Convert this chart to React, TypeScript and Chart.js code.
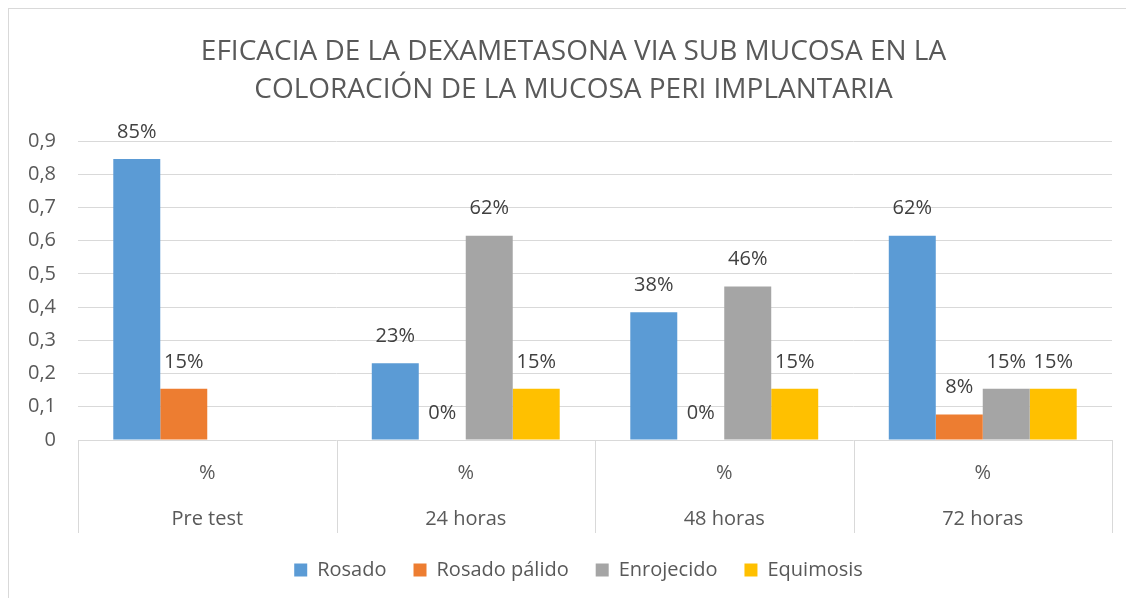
import React, { useEffect, useRef } from "react";
import { Chart, registerables } from "chart.js";

Chart.register(...registerables);

const categories: string[][] = [["%", "Pre test"], ["%", "24 horas"], ["%", "48 horas"], ["%", "72 horas"]];
const seriesNames = ["Rosado", "Rosado pálido", "Enrojecido", "Equimosis"];
const rosado = [0.846, 0.231, 0.3846, 0.615];
const rosadoPalido = [0.154, 0, 0, 0.077];
const enrojecido = [null, 0.615, 0.462, 0.154];
const equimosis = [null, 0.154, 0.154, 0.154];
const colors = ["#5B9BD5", "#ED7D31", "#A5A5A5", "#FFC000"];
const yTicks = [0, 0.1, 0.2, 0.3, 0.4, 0.5, 0.6, 0.7, 0.8, 0.9];
const titleLines = [
  "EFICACIA DE LA DEXAMETASONA VIA SUB MUCOSA EN LA",
  "COLORACIÓN DE LA MUCOSA PERI IMPLANTARIA",
];

const FONT = "'Open Sans', 'Noto Sans', sans-serif";
const TEXT = "#595959";

const labelPlugin = {
  id: "barLabels",
  afterDatasetsDraw(chart: any) {
    const ctx = chart.ctx;
    ctx.save();
    ctx.font = `20px ${FONT}`;
    ctx.fillStyle = "#404040";
    ctx.textAlign = "center";
    ctx.textBaseline = "middle";
    chart.data.datasets.forEach((ds: any, di: number) => {
      const meta = chart.getDatasetMeta(di);
      meta.data.forEach((bar: any, i: number) => {
        const v = ds.data[i];
        if (v === null || v === undefined) return;
        ctx.fillText(Math.round(v * 100) + "%", bar.x, bar.y - 27);
      });
    });
    ctx.restore();
  },
};

const separatorPlugin = {
  id: "separators",
  afterDraw(chart: any) {
    const xs = chart.scales.x;
    const ctx = chart.ctx;
    const n = xs.ticks.length;
    const w = (xs.right - xs.left) / n;
    ctx.save();
    ctx.strokeStyle = "#d9d9d9";
    ctx.lineWidth = 1;
    for (let i = 0; i <= n; i++) {
      const x = Math.round(xs.left + i * w) + 0.5;
      ctx.beginPath();
      ctx.moveTo(x, xs.top);
      ctx.lineTo(x, xs.top + 93);
      ctx.stroke();
    }
    ctx.restore();
  },
};

const shiftPlugin = {
  id: "shiftBoxes",
  afterLayout(chart: any) {
    if (chart.titleBlock) {
      chart.titleBlock.left += 13;
      chart.titleBlock.right += 13;
    }
    if (chart.legend) {
      chart.legend.left += 18;
      chart.legend.right += 18;
    }
  },
};

export default function App() {
  const ref = useRef<HTMLCanvasElement>(null);
  useEffect(() => {
    const datasets = [rosado, rosadoPalido, enrojecido, equimosis].map((d, i) => ({
      label: seriesNames[i],
      data: d,
      backgroundColor: colors[i],
      borderWidth: 0,
      categoryPercentage: 0.727,
      barPercentage: 1,
    }));
    const chart = new Chart(ref.current!, {
      type: "bar",
      data: { labels: categories, datasets },
      plugins: [labelPlugin, separatorPlugin, shiftPlugin],
      options: {
        animation: false,
        responsive: true,
        maintainAspectRatio: false,
        layout: { padding: { top: 24, left: 0, right: 15, bottom: 7 } },
        plugins: {
          title: {
            display: true,
            text: titleLines,
            color: TEXT,
            font: { family: FONT, size: 28, weight: "normal", lineHeight: 1.36 },
            padding: { top: 0, bottom: 32 },
          },
          legend: {
            position: "bottom",
            labels: {
              color: TEXT,
              font: { family: FONT, size: 20 },
              boxWidth: 13,
              boxHeight: 13,
              padding: 27,
            },
          },
          tooltip: { enabled: false },
        },
        scales: {
          x: {
            grid: { display: false, drawTicks: false },
            border: { display: false },
            afterFit: (s: any) => {
              s.height = 93;
            },
            ticks: {
              color: TEXT,
              font: { family: FONT, size: 20, lineHeight: 2.3 },
              padding: 10,
              maxRotation: 0,
            },
          },
          y: {
            min: 0,
            max: 0.9,
            afterBuildTicks: (s: any) => {
              s.ticks = yTicks.map((v) => ({ value: v }));
            },
            afterFit: (s: any) => {
              s.width = 69;
            },
            grid: { color: "#d9d9d9", drawTicks: false },
            border: { display: false },
            ticks: {
              color: TEXT,
              font: { family: FONT, size: 20 },
              padding: 22,
              callback: (v: any) => String(Math.round(Number(v) * 10) / 10).replace(".", ","),
            },
          },
        },
      },
    });
    return () => chart.destroy();
  }, []);
  return (
    <div
      style={{
        width: 1125,
        height: 589,
        borderTop: "1px solid #d9d9d9",
        borderLeft: "1px solid #d9d9d9",
        boxSizing: "content-box",
      }}
    >
      <div style={{ width: 1118, height: 588, position: "relative" }}>
        <canvas ref={ref} />
      </div>
    </div>
  );
}
